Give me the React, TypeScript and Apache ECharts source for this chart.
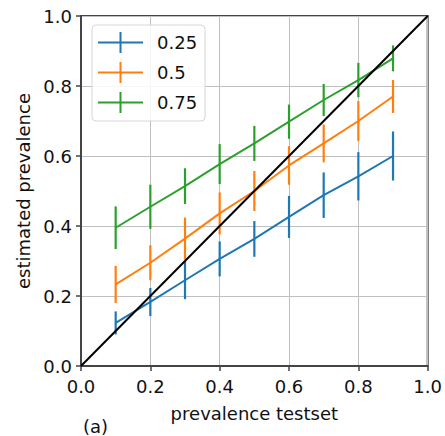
import React, { useEffect, useRef } from "react";
import * as echarts from "echarts";

const xs = [0.1, 0.2, 0.3, 0.4, 0.5, 0.6, 0.7, 0.8, 0.9];
const seriesNames = ["0.25", "0.5", "0.75"];
const colors = ["#1f77b4", "#ff7f0e", "#2ca02c"];
const mean025 = [0.123, 0.183, 0.245, 0.306, 0.363, 0.426, 0.488, 0.542, 0.6];
const err025 = [0.033, 0.04, 0.054, 0.05, 0.051, 0.06, 0.065, 0.069, 0.07];
const mean05 = [0.233, 0.295, 0.364, 0.436, 0.5, 0.573, 0.636, 0.7, 0.77];
const err05 = [0.053, 0.05, 0.06, 0.06, 0.057, 0.055, 0.054, 0.057, 0.047];
const mean075 = [0.395, 0.455, 0.514, 0.577, 0.636, 0.698, 0.76, 0.817, 0.879];
const err075 = [0.061, 0.063, 0.051, 0.057, 0.05, 0.049, 0.046, 0.049, 0.037];
const diagonal = [[0, 0], [1, 1]];
const xLabel = "prevalence testset";
const yLabel = "estimated prevalence";
const panelLabel = "(a)";

const FONT = "'DejaVu Sans', 'Liberation Sans', Arial, sans-serif";

export default function App() {
  const ref = useRef<HTMLDivElement>(null);
  useEffect(() => {
    const chart = echarts.init(ref.current!, null, { renderer: "svg" });
    const means = [mean025, mean05, mean075];
    const errs = [err025, err05, err075];
    const series: any[] = [];
    means.forEach((m, i) => {
      series.push({
        type: "line",
        name: seriesNames[i],
        data: xs.map((x, j) => [x, m[j]]),
        symbol: "none",
        lineStyle: { color: colors[i], width: 2 },
        itemStyle: { color: colors[i] },
        z: 3,
      });
      series.push({
        type: "custom",
        name: seriesNames[i],
        data: xs.map((x, j) => [x, m[j] - errs[i][j], m[j] + errs[i][j]]),
        renderItem: (params: any, api: any) => {
          const p1 = api.coord([api.value(0), api.value(1)]);
          const p2 = api.coord([api.value(0), api.value(2)]);
          return {
            type: "line",
            shape: { x1: p1[0], y1: p1[1], x2: p2[0], y2: p2[1] },
            style: { stroke: colors[i], lineWidth: 2.2 },
          };
        },
        encode: { x: 0, y: [1, 2] },
        z: 3,
      });
    });
    series.push({
      type: "line",
      data: diagonal,
      symbol: "none",
      lineStyle: { color: "#000", width: 2 },
      z: 4,
    });

    const axisCommon = {
      type: "value",
      min: 0,
      max: 1,
      interval: 0.2,
      axisLine: { show: true, lineStyle: { color: "#444", width: 2 } },
      axisTick: { show: true, inside: false, length: 5, lineStyle: { color: "#444", width: 1.5 } },
      splitLine: { show: true, lineStyle: { color: "#c0c0c0", width: 1 } },
      axisLabel: {
        color: "#111",
        fontSize: 18,
        fontFamily: FONT,
        formatter: (v: number) => v.toFixed(1),
      },
      nameLocation: "middle",
      nameTextStyle: { color: "#111", fontSize: 18, fontFamily: FONT },
    };

    chart.setOption({
      animation: false,
      backgroundColor: "#fff",
      grid: {
        left: 81,
        top: 16,
        right: 16,
        bottom: 70,
        show: true,
        borderColor: "#444",
        borderWidth: 2,
        containLabel: false,
      },
      xAxis: {
        ...axisCommon,
        name: xLabel,
        nameGap: 38,
        axisLabel: { ...axisCommon.axisLabel, margin: 11 },
      },
      yAxis: {
        ...axisCommon,
        name: yLabel,
        nameGap: 47,
        axisLabel: { ...axisCommon.axisLabel, margin: 9 },
      },
      legend: {
        left: 92,
        top: 25,
        orient: "vertical",
        data: seriesNames.map((n, i) => ({
          name: n,
          icon: "path://M0,9.5 H45 V11.5 H0 Z M21.5,0 H23.5 V21 H21.5 Z",
          itemStyle: { color: colors[i] },
        })),
        itemWidth: 45,
        itemHeight: 21,
        itemGap: 9,
        padding: [7, 8, 8, 6],
        backgroundColor: "rgba(255,255,255,0.85)",
        borderColor: "#d6d6d6",
        borderWidth: 1,
        borderRadius: 4,
        textStyle: { fontSize: 18, fontFamily: FONT, color: "#111", padding: [0, 0, 0, 9] },
        selectedMode: false,
      },
      graphic: [
        {
          type: "text",
          left: 83,
          top: 417,
          style: { text: panelLabel, fontSize: 18, fontFamily: FONT, fill: "#111" },
        },
      ],
      series,
    });
    return () => chart.dispose();
  }, []);
  return (
    <div
      ref={ref}
      style={{ position: "fixed", left: 0, top: 0, width: 445, height: 436 }}
    />
  );
}
